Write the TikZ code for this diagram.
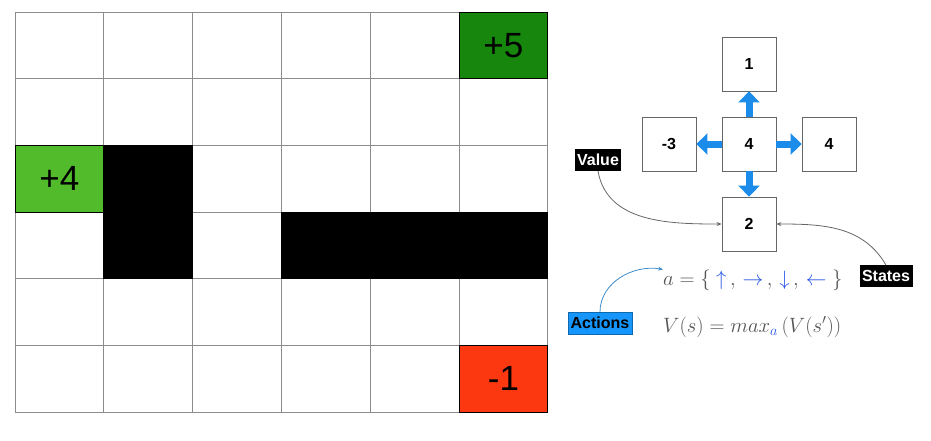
\documentclass[tikz,border=0pt]{standalone}
\usepackage{fontspec}
\setmainfont{Liberation Sans}
\usetikzlibrary{arrows.meta}

\definecolor{gridgray}{RGB}{140,140,140}
\definecolor{goaldark}{RGB}{22,135,12}
\definecolor{goallight}{RGB}{82,187,44}
\definecolor{trapred}{RGB}{252,56,16}
\definecolor{moveblue}{RGB}{28,140,235}
\definecolor{tagblue}{RGB}{22,150,250}
\definecolor{mathgray}{RGB}{85,85,85}
\definecolor{mathblue}{RGB}{40,85,230}

\begin{document}
\begin{tikzpicture}[x=1pt, y=-1pt,
  cell/.style={draw=gridgray, line width=0.8pt, minimum width=88.8pt, minimum height=66.7pt, inner sep=0pt, font=\fontsize{35}{35}\selectfont},
  wall/.style={cell, draw=black, fill=black},
  state/.style={draw=gray!80!black, line width=0.8pt, fill=white, minimum size=54pt, inner sep=0pt, font=\bfseries\fontsize{16}{16}\selectfont},
  move/.style={-{Triangle[width=21pt, length=11pt]}, line width=7pt, moveblue},
  tag/.style={inner xsep=2.5pt, inner ysep=5pt, font=\bfseries\fontsize{16}{16}\selectfont},
  pointer/.style={-{Stealth[length=5pt, width=4pt]}, line width=0.8pt, gray!80!black}]

\useasboundingbox (0,0) rectangle (931,440);

% grid world
\foreach \c in {0,...,5}
\foreach \r in {0,...,5}
\node[cell] (C\c\r) at ({59.4+88.8*\c},{45.35+66.7*\r}) {};

\node[wall] (W12) at (C12.center) {};
\node[wall] (W13) at (C13.center) {};
\node[wall] (W33) at (C33.center) {};
\node[wall] (W43) at (C43.center) {};
\node[wall] (W53) at (C53.center) {};

\node[cell, draw=black, fill=goaldark] (G50) at (C50.center) {+5};
\node[cell, draw=black, fill=goallight] (G02) at (C02.center) {+4};
\node[cell, draw=black, fill=trapred] (R55) at (C55.center) {-1};

% states around the agent
\node[state] (S4) at (749,144) {4};
\node[state] (S1) at (749,64) {1};
\node[state] (S2) at (749,224) {2};
\node[state] (SL) at (669,144) {-3};
\node[state] (SR) at (829,144) {4};

\draw[move] (S4.north) -- (S1.south);
\draw[move] (S4.south) -- (S2.north);
\draw[move] (S4.west) -- (SL.east);
\draw[move] (S4.east) -- (SR.west);

% tags
\node[tag, fill=black, text=white] (value) at (598,160) {Value};
\node[tag, fill=black, text=white] (states) at (886,276) {States};
\node[tag, fill=tagblue, draw=tagblue!70!black, line width=0.5pt] (actions) at (600,323) {Actions};

\node[anchor=west, inner sep=0pt, text=mathgray, font=\fontsize{20}{20}\selectfont] (aset) at (663,280)
  {$a = \{\ \textcolor{mathblue}{\uparrow}\,,\, \textcolor{mathblue}{\rightarrow}\,,\, \textcolor{mathblue}{\downarrow}\,,\, \textcolor{mathblue}{\leftarrow}\ \}$};
\node[anchor=west, inner sep=0pt, text=mathgray, font=\fontsize{20}{20}\selectfont] (vform) at (663,327)
  {$V(s) = max_{\textcolor{mathblue}{a}}\,\bigl(V(s')\bigr)$};

\draw[pointer] (value.south) to[out=-80, in=180] (S2.west);
\draw[pointer] (states.north) to[out=120, in=0] (S2.east);
\draw[pointer, color=tagblue!60!gray] (actions.north) to[out=90, in=170] (aset.north west);

\end{tikzpicture}
\end{document}
